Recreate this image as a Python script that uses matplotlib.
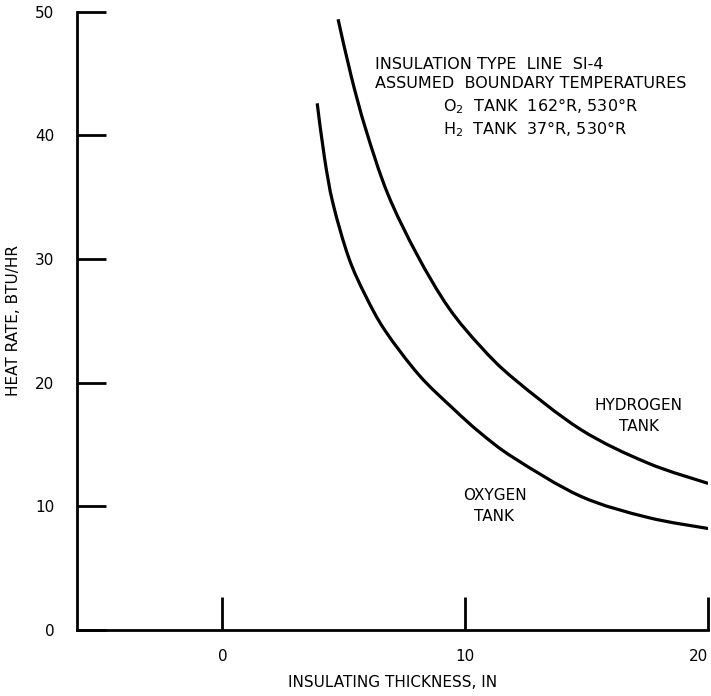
import matplotlib
matplotlib.use("Agg")
import matplotlib.pyplot as plt
from matplotlib.path import Path
from matplotlib.patches import PathPatch

# values
h2_thick = [4.76, 5.3, 5.9, 6.8, 8.0, 9.3, 10.64, 12.01, 14.76, 17.51, 20.0]
h2_rate = [49.4, 44.8, 40.5, 35.3, 30.4, 26.1, 22.9, 20.3, 16.2, 13.5, 11.85]

o2_thick = [3.9, 4.2, 4.55, 5.2, 5.9, 6.7, 8.1, 9.5, 10.64, 12.01, 14.76, 17.51, 20.0]
o2_rate = [42.6, 38.2, 34.5, 30.1, 27.0, 24.2, 20.6, 17.9, 15.9, 13.9, 10.8, 9.1, 8.2]

x_ticks = [0, 10, 20]
y_ticks = [0, 10, 20, 30, 40, 50]

notes = ["INSULATION TYPE  LINE  SI-4",
         "ASSUMED  BOUNDARY TEMPERATURES",
         "O$_\\mathregular{2}$  TANK  162°R, 530°R",
         "H$_\\mathregular{2}$  TANK  37°R, 530°R"]


def curve_path(xs, ys):
    # french-curve look: cubic bezier through the read points (catmull-rom tangents)
    pts = list(zip(xs, ys))
    verts = [pts[0]]
    codes = [Path.MOVETO]
    n = len(pts)
    for i in range(n - 1):
        p0 = pts[max(i - 1, 0)]
        p1 = pts[i]
        p2 = pts[i + 1]
        p3 = pts[min(i + 2, n - 1)]
        c1 = (p1[0] + (p2[0] - p0[0]) / 6.0, p1[1] + (p2[1] - p0[1]) / 6.0)
        c2 = (p2[0] - (p3[0] - p1[0]) / 6.0, p2[1] - (p3[1] - p1[1]) / 6.0)
        verts += [c1, c2, p2]
        codes += [Path.CURVE4] * 3
    return Path(verts, codes)


def main():
    plt.rcParams["font.family"] = ["DejaVu Sans"]
    plt.rcParams["mathtext.default"] = "regular"
    fig = plt.figure(figsize=(7.11, 6.96), dpi=100)
    ax = fig.add_axes([0.108, 0.095, 0.888, 0.888])

    for xs, ys in [(h2_thick, h2_rate), (o2_thick, o2_rate)]:
        ax.add_patch(PathPatch(curve_path(xs, ys), fill=False, edgecolor="black",
                               lw=2.3, capstyle="butt"))

    ax.set_xlim(-6, 20)
    ax.set_ylim(0, 50)
    ax.set_xticks(x_ticks)
    ax.set_yticks(y_ticks)
    ax.spines["top"].set_visible(False)
    ax.spines["right"].set_visible(False)
    for s in ["left", "bottom"]:
        ax.spines[s].set_linewidth(2.0)
    ax.tick_params(axis="x", direction="in", length=24, width=2.0, pad=14, labelsize=11)
    ax.tick_params(axis="y", direction="in", length=21, width=2.0, pad=16, labelsize=11)
    # last x label sits left of its tick, as on the original sheet
    ax.get_xticklabels()[-1].set_horizontalalignment("right")

    ax.set_xlabel("INSULATING THICKNESS, IN", fontsize=11, labelpad=8)
    ax.set_ylabel("HEAT RATE, BTU/HR", fontsize=11, labelpad=10)

    ax.text(6.3, 45.7, notes[0], fontsize=11.5, va="center")
    ax.text(6.3, 44.2, notes[1], fontsize=11.5, va="center")
    ax.text(9.1, 42.4, notes[2], fontsize=11.5, va="center")
    ax.text(9.1, 40.5, notes[3], fontsize=11.5, va="center")

    ax.text(17.15, 17.3, "HYDROGEN\nTANK", fontsize=11, ha="center", va="center",
            linespacing=1.5)
    ax.text(11.2, 10.0, "OXYGEN\nTANK", fontsize=11, ha="center", va="center",
            linespacing=1.5)

    fig.savefig("out.png", dpi=100)


if __name__ == "__main__":
    main()
